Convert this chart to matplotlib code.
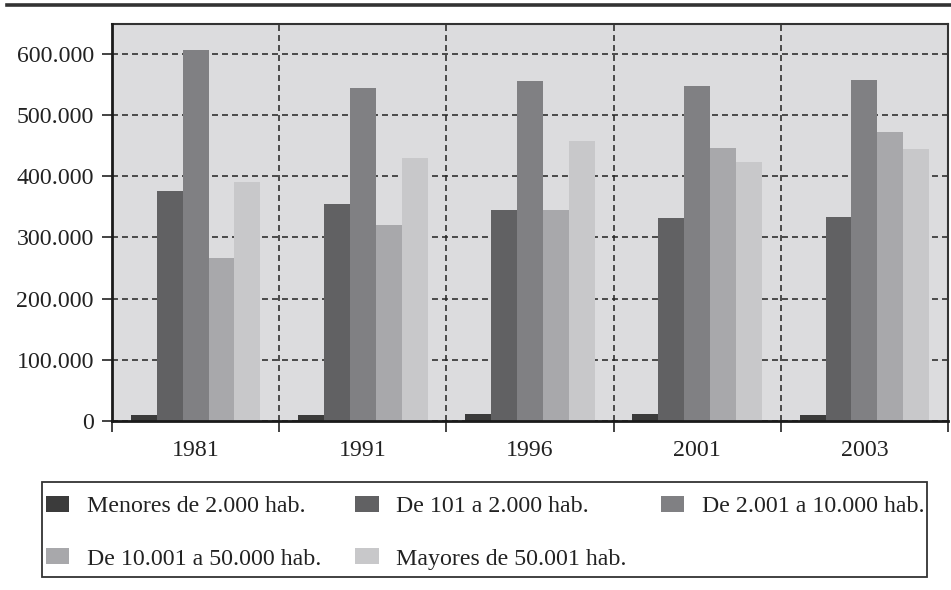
import matplotlib
matplotlib.use("Agg")
import matplotlib.pyplot as plt
import numpy as np
from matplotlib.lines import Line2D
from matplotlib.patches import Rectangle

plt.rcParams['font.family'] = ['Liberation Serif', 'DejaVu Serif']
plt.rcParams['lines.scale_dashes'] = False

years = ["1981", "1991", "1996", "2001", "2003"]
series_names = ["Menores de 2.000 hab.", "De 101 a 2.000 hab.", "De 2.001 a 10.000 hab.",
                "De 10.001 a 50.000 hab.", "Mayores de 50.001 hab."]
menores = [10000, 10000, 12000, 12000, 10000]
de101 = [376000, 355000, 345000, 332000, 333000]
de2001 = [607000, 545000, 556000, 547000, 558000]
de10001 = [266000, 320000, 345000, 447000, 472000]
mayores = [390000, 430000, 457000, 424000, 444000]
yticks = [0, 100000, 200000, 300000, 400000, 500000, 600000]
ytick_labels = ["0", "100.000", "200.000", "300.000", "400.000", "500.000", "600.000"]

colors = ["#3b3b3b", "#616163", "#808083", "#a8a8ab", "#c8c8ca"]
all_series = [menores, de101, de2001, de10001, mayores]

W, H = 951, 590
fig = plt.figure(figsize=(W / 100, H / 100), dpi=100)
ax = fig.add_axes([112 / W, 1 - 421 / H, (948 - 112) / W, (421 - 24) / H])
ax.set_facecolor("#dcdcde")

x = np.arange(len(years))
bw = 0.155
handles = []
for i, (vals, c) in enumerate(zip(all_series, colors)):
    b = ax.bar(x + (i - 2) * bw, vals, width=bw, color=c, zorder=3, linewidth=0)
    handles.append(b)

ax.set_xlim(-0.5, len(years) - 0.5)
ax.set_ylim(0, 649000)
ax.set_yticks(yticks)
ax.set_yticklabels(ytick_labels)
ax.set_xticks(x)
ax.set_xticklabels(years)
ax.set_xticks(np.arange(len(years) + 1) - 0.5, minor=True)

fs = 17.2
ax.tick_params(axis='y', which='major', length=7, width=1.2, direction='out', pad=6,
               labelsize=fs, colors='#222222')
ax.tick_params(axis='x', which='major', length=0, pad=14, labelsize=fs, colors='#222222')
ax.tick_params(axis='x', which='minor', length=8, width=1.2, direction='out', color='#222222')

dash = (0, (4.3, 2.9))
ax.grid(axis='y', which='major', color='#222222', linestyle=dash, linewidth=1.1, zorder=1)
ax.grid(axis='x', which='minor', color='#222222', linestyle=dash, linewidth=1.1, zorder=1)
ax.grid(axis='x', which='major', visible=False)

for s in ['top', 'right']:
    ax.spines[s].set_color('#333333')
    ax.spines[s].set_linewidth(1.5)
for s in ['left', 'bottom']:
    ax.spines[s].set_color('#1a1a1a')
    ax.spines[s].set_linewidth(2.0)
    ax.spines[s].set_zorder(5)

# top rule
fig.add_artist(Line2D([7 / W, 1.0], [1 - 5 / H, 1 - 5 / H], color='#333333', linewidth=2.6,
                      transform=fig.transFigure))

# legend frame
fig.add_artist(Rectangle((42 / W, 1 - 577 / H), (927 - 42) / W, (577 - 482) / H,
                         transform=fig.transFigure, fill=False, edgecolor='#333333',
                         linewidth=1.3))

# legend is filled column by column; reorder so it reads row by row
order = [0, 3, 1, 4, 2]
leg = fig.legend([handles[k] for k in order], [series_names[k] for k in order],
                 loc='upper left', bbox_to_anchor=(46 / W, 1 - 496 / H),
                 ncol=3, fontsize=fs, frameon=False,
                 handlelength=0.97, handleheight=0.65, handletextpad=0.75,
                 labelspacing=1.3, borderpad=0.0, borderaxespad=0, columnspacing=1.42)
for t in leg.get_texts():
    t.set_color('#222222')

fig.savefig("out.png", dpi=100)
